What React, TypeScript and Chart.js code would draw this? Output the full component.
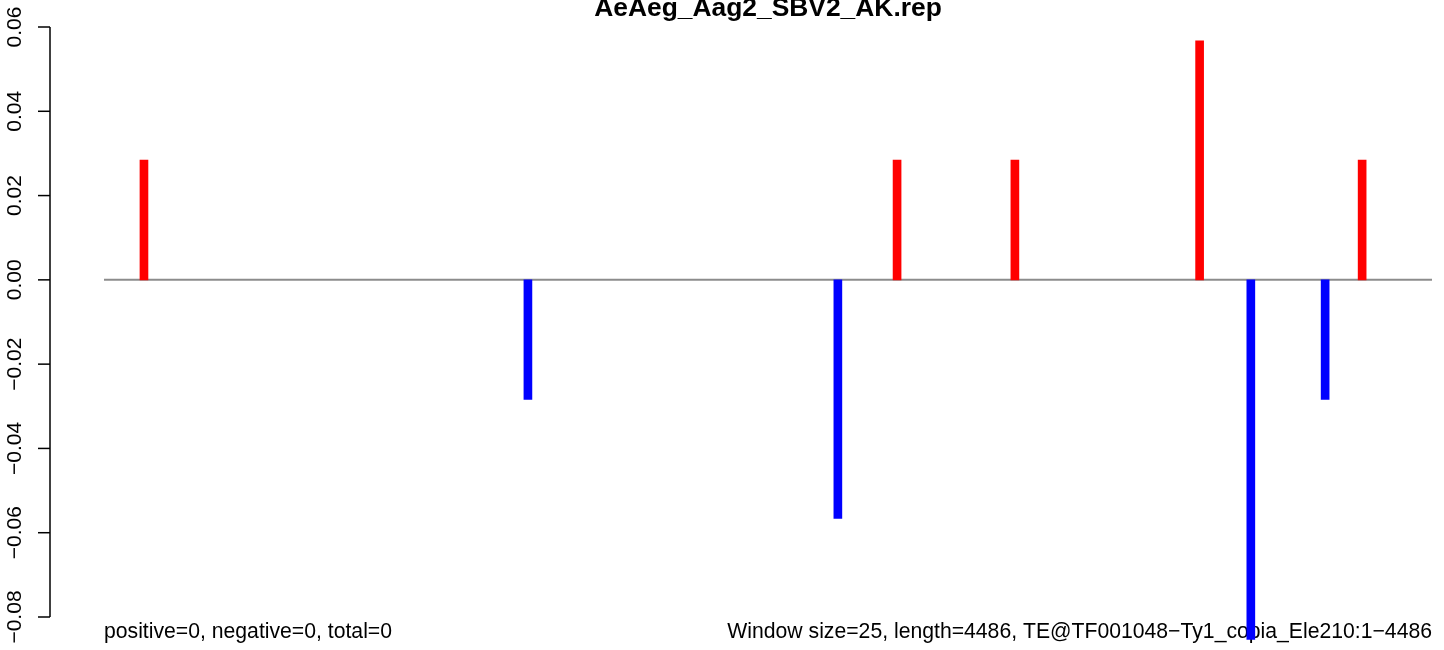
import React, { useEffect, useRef } from "react";
import { Chart, registerables } from "chart.js";

Chart.register(...registerables);

// Window positions (bp) and normalised counts
const positions = [135, 1432, 2479, 2679, 3077, 3701, 3874, 4125, 4250];
const values = [0.0284, -0.0284, -0.0566, 0.0284, 0.0284, 0.0567, -0.0853, -0.0284, 0.0284];
const yTicks = [-0.08, -0.06, -0.04, -0.02, 0, 0.02, 0.04, 0.06];
const yTickLabels = ["\u22120.08", "\u22120.06", "\u22120.04", "\u22120.02", "0.00", "0.02", "0.04", "0.06"];
const seqLength = 4486;
const title = "AeAeg_Aag2_SBV2_AK.rep";
const leftNote = "positive=0, negative=0, total=0";
const rightNote = "Window size=25, length=4486, TE@TF001048\u2212Ty1_copia_Ele210:1\u22124486";

const FONT = '"Liberation Sans", Arial, Helvetica, sans-serif';

const decorPlugin = {
  id: "decor",
  beforeDatasetsDraw(chart: any) {
    const ctx = chart.ctx as CanvasRenderingContext2D;
    const y = chart.scales.y;
    const area = chart.chartArea;
    ctx.save();
    ctx.fillStyle = "#000";
    ctx.textBaseline = "alphabetic";
    ctx.font = `bold 26.4px ${FONT}`;
    ctx.textAlign = "center";
    ctx.fillText(title, (area.left + area.right) / 2, 16);

    ctx.font = `21.2px ${FONT}`;
    ctx.textAlign = "left";
    ctx.fillText(leftNote, area.left, 638);
    ctx.textAlign = "right";
    ctx.fillText(rightNote, area.right, 638);

    const axisX = 50;
    ctx.strokeStyle = "#000";
    ctx.lineWidth = 1.5;
    ctx.beginPath();
    ctx.moveTo(axisX, y.getPixelForValue(yTicks[0]));
    ctx.lineTo(axisX, y.getPixelForValue(yTicks[yTicks.length - 1]));
    ctx.stroke();
    ctx.font = `21px ${FONT}`;
    yTicks.forEach((t, i) => {
      const py = y.getPixelForValue(t);
      ctx.beginPath();
      ctx.moveTo(axisX - 12, py);
      ctx.lineTo(axisX, py);
      ctx.stroke();
      ctx.save();
      ctx.translate(21, py);
      ctx.rotate(-Math.PI / 2);
      ctx.textAlign = "center";
      ctx.fillText(yTickLabels[i], 0, 0);
      ctx.restore();
    });
    ctx.restore();
  },
};

export default function App() {
  const ref = useRef<HTMLCanvasElement | null>(null);
  useEffect(() => {
    if (!ref.current) return;
    const chart = new Chart(ref.current, {
      type: "bar",
      data: {
        datasets: [
          {
            type: "bar",
            data: positions.map((x, i) => ({ x, y: values[i] })),
            backgroundColor: values.map((v) => (v >= 0 ? "#FF0000" : "#0000FF")),
            borderWidth: 0,
            barThickness: 8,
            clip: false as any,
            order: 1,
          } as any,
          {
            type: "line",
            data: [
              { x: 0, y: 0 },
              { x: seqLength, y: 0 },
            ],
            borderColor: "#8c8c8c",
            borderWidth: 2,
            pointRadius: 0,
            order: 2,
          } as any,
        ],
      },
      options: {
        animation: false,
        responsive: false,
        devicePixelRatio: 1,
        events: [],
        layout: { padding: { left: 104, right: 12, top: 27, bottom: 33 } },
        plugins: { legend: { display: false }, tooltip: { enabled: false }, title: { display: false } },
        scales: {
          x: { type: "linear", min: 0, max: seqLength, display: false, offset: false },
          y: { type: "linear", min: -0.08, max: 0.06, display: false },
        },
      } as any,
      plugins: [decorPlugin],
    });
    return () => chart.destroy();
  }, []);
  return (
    <div style={{ position: "absolute", left: 0, top: 0, width: 1444, height: 650, background: "#fff" }}>
      <canvas ref={ref} width={1444} height={650} />
    </div>
  );
}
